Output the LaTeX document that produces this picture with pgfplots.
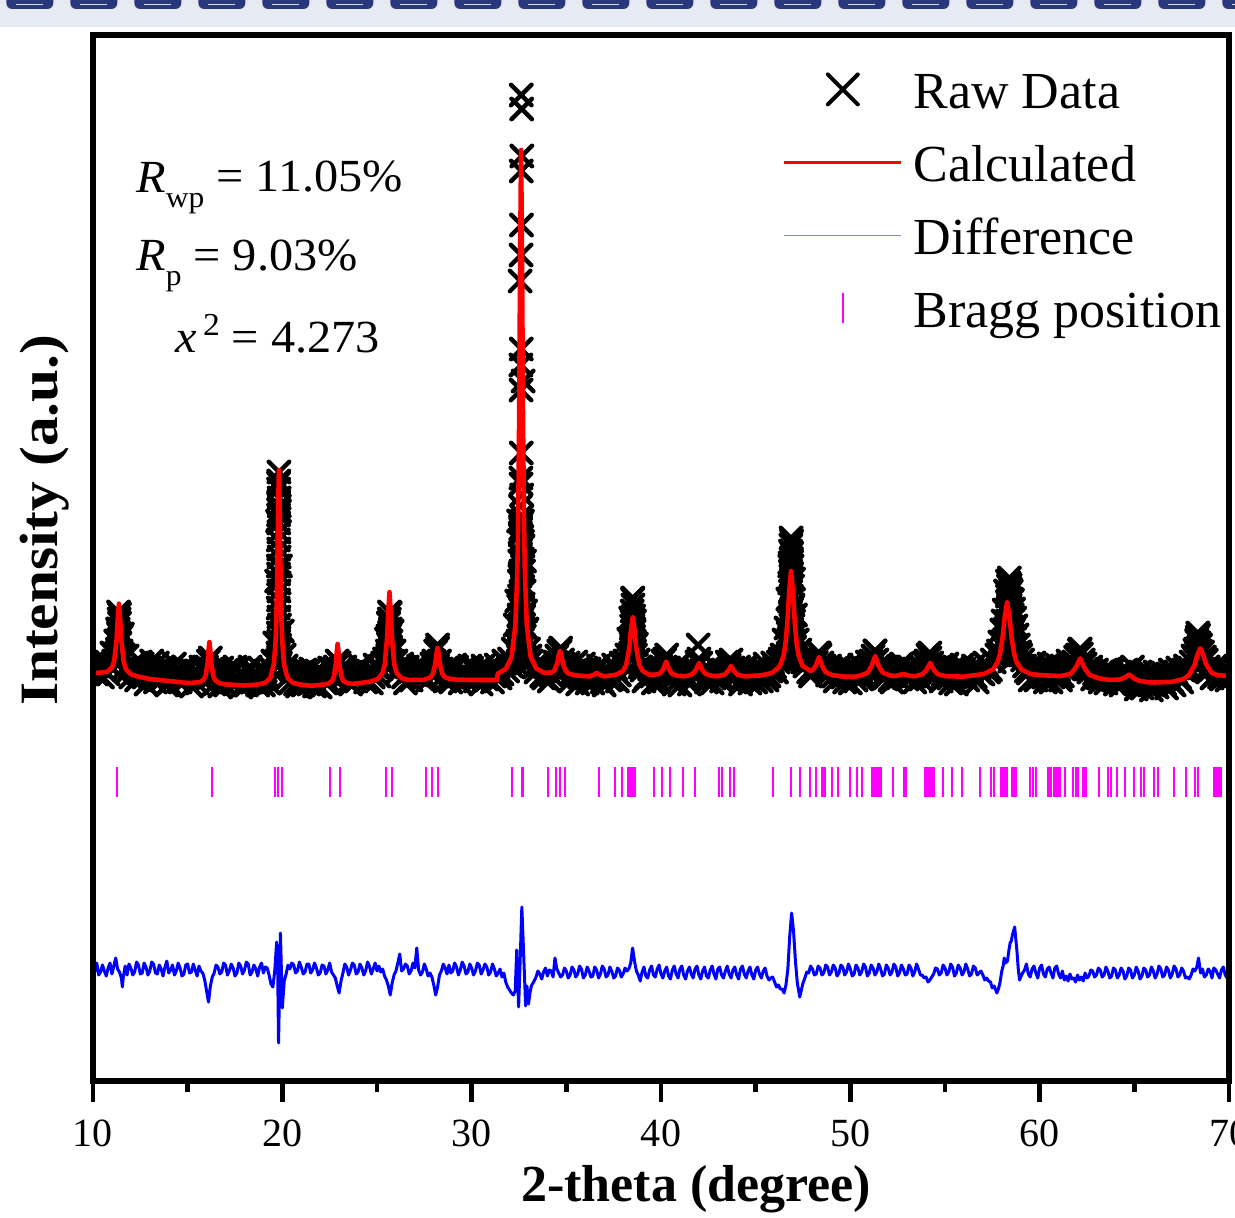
\documentclass[border=0pt]{standalone}
\usepackage{fontspec}
\setmainfont{Liberation Serif}
\usepackage{graphicx}
\usepackage{pgfplots}
\usepackage{pgfplotstable}
\pgfplotsset{compat=1.18}
\definecolor{bannerbg}{RGB}{230,234,243}
\definecolor{bannerfg}{RGB}{40,56,122}
\definecolor{bannerln}{RGB}{215,222,240}
\definecolor{legblue}{RGB}{135,135,250}
\definecolor{braggmag}{RGB}{255,0,255}
\definecolor{calcred}{RGB}{255,0,0}
\definecolor{diffblue}{RGB}{0,0,255}

\pgfplotstableread{
x o d
10.0 418 104
10.1 409 110
10.2 407 118
10.3 415 106
10.4 423 109
10.5 404 116
10.6 411 110
10.7 419 105
10.8 407 113
10.9 415 118
11.0 428 107
11.1 420 115
11.2 440 123
11.3 452 112
11.4 467 109
11.5 445 103
11.55 447 94
11.6 426 104
11.7 414 115
11.8 425 106
11.9 411 117
12.0 404 113
12.1 416 106
12.2 412 109
12.3 401 119
12.4 408 116
12.5 419 107
12.6 417 108
12.7 404 118
12.8 397 114
12.9 410 106
13.0 413 110
13.1 420 119
13.2 404 117
13.3 399 108
13.4 418 107
13.5 409 116
13.6 401 112
13.7 414 105
13.8 410 114
13.9 396 120
14.0 398 108
14.1 412 111
14.2 406 116
14.3 417 106
14.4 410 110
14.5 400 118
14.6 399 113
14.7 408 105
14.8 414 107
14.9 402 116
15.0 403 117
15.1 412 108
15.2 395 109
15.3 406 117
15.4 410 111
15.5 398 105
15.6 405 115
15.7 414 110
15.8 402 108
15.9 409 101
16.0 414 90
16.1 420 79
16.2 423 95
16.3 412 104
16.4 397 108
16.5 410 116
16.6 406 114
16.7 395 107
16.8 413 109
16.9 404 118
17.0 396 116
17.1 411 106
17.2 408 110
17.3 399 117
17.4 401 113
17.5 414 105
17.6 412 108
17.7 400 118
17.8 394 115
17.9 407 107
18.0 405 111
18.1 396 119
18.2 410 117
18.3 414 106
18.4 399 109
18.5 405 116
18.6 407 112
18.7 396 105
18.8 413 114
18.9 402 118
19.0 396 108
19.1 410 114
19.2 404 113
19.3 398 106
19.4 412 97
19.5 420 94
19.6 438 110
19.7 500 139
19.75 560 120
19.8 598 38
19.85 570 90
19.9 515 148
20.0 450 73
20.1 426 100
20.2 415 107
20.3 404 116
20.4 398 112
20.5 411 118
20.6 409 116
20.7 397 108
20.8 395 110
20.9 408 119
21.0 405 114
21.1 396 107
21.2 411 109
21.3 404 117
21.4 397 117
21.5 412 108
21.6 403 111
21.7 395 118
21.8 410 113
21.9 406 106
22.0 394 108
22.1 409 116
22.2 406 115
22.3 398 107
22.4 400 111
22.5 413 118
22.6 412 109
22.7 403 106
22.8 414 103
22.9 420 95
23.0 418 88
23.1 412 100
23.2 404 108
23.3 414 117
23.4 410 114
23.5 399 106
23.6 397 111
23.7 409 118
23.8 407 116
23.9 400 107
24.0 402 109
24.1 415 117
24.2 413 113
24.3 404 106
24.4 399 110
24.5 410 119
24.6 409 115
24.7 398 107
24.8 404 112
24.9 416 118
25.0 414 110
25.1 405 115
25.2 412 109
25.3 418 112
25.4 422 105
25.5 442 101
25.6 458 95
25.7 468 86
25.8 450 98
25.9 430 106
26.0 420 110
26.1 409 118
26.2 412 127
26.3 417 110
26.4 404 112
26.5 398 117
26.6 414 115
26.7 409 107
26.8 401 110
26.9 412 118
27.0 410 113
27.1 406 133
27.2 415 111
27.3 408 106
27.4 402 109
27.5 414 117
27.6 412 112
27.7 401 105
27.8 409 108
27.9 417 104
28.0 420 96
28.1 430 86
28.2 436 94
28.3 420 106
28.4 412 110
28.5 405 117
28.6 400 113
28.7 413 107
28.8 411 116
28.9 399 108
29.0 404 110
29.1 416 118
29.2 414 114
29.3 405 106
29.4 398 111
29.5 411 119
29.6 409 115
29.7 401 107
29.8 403 109
29.9 415 117
30.0 413 113
30.1 404 106
30.2 400 110
30.3 411 118
30.4 408 116
30.5 397 107
30.6 415 111
30.7 409 117
30.8 402 114
30.9 413 106
31.0 410 109
31.1 399 117
31.2 405 112
31.3 416 105
31.4 414 108
31.5 403 112
31.6 407 104
31.7 420 108
31.8 418 99
31.9 410 94
32.0 422 91
32.1 415 88
32.2 432 86
32.3 456 90
32.38 480 131
32.48 560 74
32.56 800 120
32.65 925 174
32.72 700 140
32.79 520 105
32.85 470 75
32.92 452 95
33.0 432 77
33.08 425 88
33.15 420 95
33.3 414 100
33.4 409 104
33.5 418 110
33.6 416 107
33.7 405 102
33.8 403 109
33.9 414 113
34.0 411 105
34.1 400 111
34.2 406 110
34.3 412 104
34.4 419 123
34.5 425 112
34.6 430 108
34.7 433 104
34.8 421 106
34.9 410 113
35.0 413 110
35.1 418 103
35.2 400 106
35.3 407 114
35.4 410 111
35.5 419 104
35.6 397 107
35.7 404 115
35.8 408 112
35.9 417 103
36.0 403 106
36.1 398 114
36.2 412 110
36.3 406 104
36.4 398 105
36.5 409 114
36.6 411 111
36.7 415 103
36.8 404 107
36.9 399 115
37.0 396 112
37.1 413 104
37.2 410 106
37.3 401 114
37.4 402 110
37.5 416 103
37.6 412 105
37.7 400 113
37.8 406 111
37.9 418 104
38.0 415 107
38.1 420 113
38.2 426 110
38.3 442 112
38.4 463 118
38.5 482 133
38.6 460 120
38.7 437 110
38.8 421 106
38.9 414 100
39.0 411 109
39.1 400 114
39.2 403 105
39.3 415 103
39.4 412 111
39.5 405 115
39.6 398 106
39.7 411 104
39.8 407 112
39.9 399 116
40.0 414 107
40.1 420 103
40.2 422 110
40.3 426 114
40.4 413 105
40.5 409 102
40.6 402 111
40.7 397 115
40.8 410 107
40.9 416 103
41.0 396 112
41.1 405 115
41.2 408 106
41.3 414 102
41.4 403 110
41.5 397 114
41.6 411 107
41.7 406 103
41.8 413 112
41.9 419 115
42.0 422 106
42.1 418 102
42.2 411 110
42.3 403 114
42.4 399 105
42.5 412 103
42.6 409 111
42.7 398 115
42.8 403 107
42.9 414 102
43.0 412 112
43.1 405 114
43.2 400 106
43.3 410 103
43.4 408 110
43.5 419 115
43.6 416 107
43.7 421 103
43.8 413 111
43.9 404 114
44.0 405 106
44.1 414 102
44.2 397 112
44.3 403 115
44.4 410 107
44.5 415 103
44.6 402 110
44.7 398 114
44.8 411 106
44.9 406 102
45.0 399 111
45.1 412 114
45.2 407 107
45.3 400 103
45.4 412 110
45.5 417 113
45.6 401 105
45.7 405 101
45.8 410 103
45.9 418 104
46.0 414 99
46.1 409 94
46.2 419 96
46.3 422 92
46.4 426 92
46.5 441 88
46.6 453 96
46.7 482 112
46.8 515 145
46.9 540 168
47.0 502 150
47.1 466 120
47.2 441 98
47.33 431 84
47.4 423 90
47.5 419 98
47.6 415 103
47.7 420 109
47.8 409 108
47.9 405 115
48.0 413 112
48.1 421 106
48.2 419 107
48.3 428 115
48.4 426 113
48.5 418 106
48.6 415 108
48.7 410 116
48.8 406 114
48.9 415 106
49.0 412 109
49.1 405 116
49.2 400 113
49.3 413 105
49.4 409 108
49.5 416 116
49.6 404 114
49.7 399 106
49.8 413 109
49.9 408 117
50.0 398 112
50.1 411 105
50.2 407 107
50.3 401 116
50.4 411 113
50.5 416 106
50.6 402 109
50.7 406 117
50.8 412 114
50.9 419 105
51.0 415 108
51.1 420 116
51.2 425 113
51.3 430 106
51.4 421 109
51.5 415 117
51.6 411 112
51.7 405 105
51.8 403 107
51.9 414 116
52.0 410 113
52.1 401 106
52.2 399 109
52.3 412 117
52.4 408 114
52.5 403 105
52.6 413 108
52.7 417 116
52.8 410 112
52.9 404 106
53.0 402 107
53.1 414 116
53.2 411 113
53.3 405 105
53.4 399 109
53.5 410 117
53.6 409 112
53.7 402 106
53.8 413 106
53.9 418 103
54.0 420 104
54.1 426 99
54.2 423 101
54.3 418 104
54.4 413 107
54.5 405 113
54.6 407 112
54.7 414 106
54.8 400 108
54.9 406 116
55.0 411 113
55.1 417 106
55.2 403 109
55.3 398 117
55.4 409 114
55.5 414 105
55.6 397 108
55.7 405 116
55.8 407 113
55.9 416 106
56.0 412 109
56.1 403 117
56.2 401 112
56.3 410 105
56.4 410 107
56.5 415 115
56.6 404 113
56.7 399 106
56.8 413 108
56.9 408 110
57.0 407 106
57.1 418 101
57.2 416 103
57.3 409 100
57.4 411 99
57.5 421 93
57.6 419 95
57.74 426 88
57.82 430 92
57.9 439 98
58.0 451 110
58.07 460 115
58.13 471 123
58.2 490 118
58.3 500 120
58.37 498 130
58.44 496 138
58.5 490 140
58.56 481 146
58.62 472 150
58.68 463 154
58.74 455 142
58.8 446 130
58.87 436 112
58.94 429 101
59.0 426 104
59.1 421 108
59.2 415 111
59.3 410 117
59.4 408 107
59.5 401 104
59.6 413 112
59.7 418 115
59.8 401 108
59.9 406 103
60.0 410 113
60.1 415 116
60.2 404 107
60.3 399 104
60.4 412 112
60.5 417 114
60.6 399 108
60.7 404 103
60.8 408 113
60.9 416 115
61.0 411 107
61.1 401 103
61.2 405 110
61.3 412 101
61.4 414 105
61.5 420 100
61.6 412 107
61.7 416 102
61.8 419 103
61.9 424 99
62.0 426 106
62.1 431 101
62.2 427 104
62.3 421 100
62.4 417 108
62.5 412 103
62.6 409 105
62.7 414 111
62.8 402 110
62.9 407 104
63.0 411 106
63.1 403 113
63.2 399 111
63.3 409 104
63.4 407 106
63.5 398 114
63.6 402 110
63.7 412 103
63.8 410 105
63.9 401 113
64.0 397 111
64.1 406 103
64.2 405 106
64.3 396 113
64.4 400 110
64.5 410 102
64.6 411 105
64.7 403 113
64.8 407 111
64.9 414 103
65.0 398 106
65.1 392 114
65.2 404 110
65.3 409 102
65.4 393 105
65.5 399 113
65.6 401 111
65.7 407 104
65.8 396 106
65.9 391 114
66.0 405 110
66.1 409 103
66.2 394 107
66.3 400 115
66.4 402 112
66.5 408 104
66.6 397 106
66.7 393 114
66.8 406 111
66.9 411 103
67.0 399 107
67.1 396 115
67.2 408 112
67.3 413 104
67.4 403 106
67.5 399 113
67.6 411 110
67.7 415 103
67.8 409 104
67.9 413 102
68.0 419 106
68.1 425 112
68.2 431 110
68.3 441 114
68.39 446 123
68.5 436 108
68.6 429 112
68.7 424 104
68.8 421 106
68.9 414 112
69.0 411 110
69.1 403 103
69.2 405 113
69.3 415 111
69.4 413 107
69.5 404 103
69.6 402 111
69.7 412 114
69.8 410 106
69.9 401 103
70.0 404 109
}\obsdata

\pgfplotstableread{
x y
11.28 440
11.35 469
11.38 462
11.40 458
11.36 447
11.45 445
11.33 452
11.42 438
11.30 432
11.48 430
11.25 428
11.44 422
11.52 425
19.82 609
19.81 600
19.80 592
19.83 583
19.84 575
19.80 566
19.81 558
19.82 549
19.79 541
19.81 532
19.83 524
19.79 515
19.80 507
19.83 498
19.82 490
19.80 481
19.78 473
19.82 464
19.85 456
19.79 448
19.81 440
19.84 436
19.77 428
19.80 424
19.87 432
19.74 420
19.90 418
25.66 469
25.65 462
25.62 458
25.70 452
25.68 446
25.58 445
25.74 440
25.61 440
25.64 436
25.72 434
25.55 430
25.78 428
25.57 426
25.60 425
25.66 422
25.80 420
25.50 420
28.20 433
32.62 986
32.64 972
32.62 910
32.63 856
32.61 826
32.62 732
32.60 716
32.61 691
32.62 628
32.60 603
32.61 597
32.64 586
32.58 575
32.65 565
32.68 560
32.63 558
32.59 552
32.57 548
32.57 546
32.66 540
32.71 535
32.56 528
32.67 522
32.54 520
32.68 515
32.60 510
32.74 510
32.55 505
32.52 500
32.62 498
32.70 494
32.77 490
32.53 485
32.72 477
32.48 475
32.58 472
32.51 466
32.75 465
32.66 462
32.74 456
32.50 455
32.55 450
32.49 445
32.78 445
32.69 442
32.45 440
32.76 435
32.52 432
32.72 428
32.47 425
32.60 420
32.79 418
32.44 416
34.67 430
38.51 483
38.52 476
38.48 470
38.55 465
38.47 460
38.45 455
38.56 452
38.58 450
38.50 445
38.50 440
38.42 438
38.62 436
38.44 432
38.60 430
38.40 428
38.65 426
41.96 436
46.87 543
46.86 536
46.84 530
46.90 528
46.89 522
46.82 518
46.92 515
46.85 510
46.86 505
46.88 500
46.80 498
46.95 495
46.84 490
46.88 485
46.78 480
46.97 476
46.90 472
46.83 468
46.75 462
47.00 460
46.86 456
46.90 452
46.72 448
47.03 446
46.80 444
46.85 440
46.93 438
46.70 436
47.06 434
46.88 430
46.95 428
46.68 425
47.10 424
46.82 420
48.35 428
51.31 430
54.20 428
58.40 503
58.38 498
58.35 495
58.45 492
58.42 488
58.30 485
58.50 482
58.33 478
58.38 475
58.47 470
58.28 468
58.55 466
58.30 460
58.42 458
58.40 454
58.25 452
58.58 450
58.50 445
58.35 444
58.28 442
58.22 438
58.60 436
58.38 434
58.45 430
58.25 430
58.55 428
58.20 425
58.62 424
58.42 420
62.14 432
68.35 448
68.33 444
68.30 440
68.42 438
68.40 434
68.25 432
68.48 430
68.28 428
68.45 426
68.38 425
68.20 422
68.55 420
}\stackdata

\pgfplotstableread{
x y
10.0 408
10.37 408.4
10.75 409.3
11.0 413.2
11.12 420.2
11.245 441.5
11.31 463
11.37 477.3
11.43 462.7
11.495 441
11.62 419.2
11.745 411.7
12.0 406.8
12.37 404.4
13.0 402
14.0 400
15.0 398
15.35 398.3
15.65 399
15.85 401.4
15.95 405.4
16.05 418
16.10 430.5
16.15 438.9
16.20 430.4
16.25 417.8
16.35 405.1
16.45 400.8
16.65 398
16.95 396.7
18.0 395.5
18.74 396.6
19.10 398.3
19.37 403.3
19.55 416.6
19.64 438.2
19.685 461.5
19.73 503
19.775 567.8
19.82 611
19.865 567.8
19.91 503
19.955 461.5
20.00 438.2
20.09 416.6
20.27 403.3
20.54 398.3
20.90 396.6
21.5 395.2
22.12 396.2
22.42 397.3
22.62 399.9
22.72 404.1
22.82 416.4
22.87 428.7
22.92 437
22.97 428.8
23.02 416.5
23.12 404.3
23.22 400.2
23.42 397.9
23.72 397.1
24.16 398.1
24.66 399.5
25.035 401.9
25.285 407.6
25.41 416.7
25.535 443.8
25.60 470.9
25.66 488.9
25.72 471
25.785 444
25.91 417.1
26.035 408.2
26.285 402.9
26.66 401.1
27.16 401.2
27.45 401.1
27.825 403.6
27.95 407
28.075 416.9
28.14 426.9
28.20 433.5
28.26 427
28.325 417
28.45 407.2
28.575 403.9
28.825 402.1
29.2 401.4
30.0 401
31.0 401
31.34 401
31.38 407.4
31.81 412.1
32.11 424.2
32.31 456.4
32.41 508.8
32.46 565
32.51 666
32.56 823
32.61 931
32.66 823
32.71 666
32.76 565
32.81 508.8
32.91 456.4
33.11 424.5
33.41 412.6
33.81 408.3
34.22 408.5
34.37 410.7
34.52 417.9
34.595 425.4
34.67 430.2
34.745 425.1
34.82 417.5
34.97 410
35.12 407.4
35.42 405.8
35.9 405
36.2 404.6
36.45 406.2
36.6 408
36.75 406.2
37.0 404.7
37.11 404.9
37.635 406.3
37.985 410
38.16 416
38.335 434
38.42 452
38.51 464
38.60 452
38.685 434
38.86 416
39.035 410
39.385 406.3
39.67 406.2
39.97 407.7
40.12 412
40.27 419.4
40.42 412
40.57 407.3
40.87 405.2
41.31 404.8
41.66 406.8
41.835 411
42.01 418
42.185 411
42.36 407
42.71 405
43.00 405
43.35 406.2
43.525 409.5
43.70 415
43.875 409.5
44.05 406.2
44.4 404.7
45.27 405.6
45.87 408.1
46.27 414.6
46.47 425.2
46.57 436.6
46.67 457
46.77 488.8
46.87 510
46.97 488.8
47.07 457
47.17 436.6
47.27 425.7
47.47 415.3
47.87 410.2
48.0 410.8
48.175 415.4
48.35 423.9
48.525 414.5
48.70 408.8
49.05 405.9
49.6 404.5
50.2 404.2
50.51 405.3
50.91 408.2
51.11 414.5
51.31 425
51.51 414.5
51.71 408.3
52.11 405.5
52.4 405
52.79 407
53.2 405
53.42 404.9
53.82 406.8
54.02 411
54.22 418
54.42 411
54.62 406.8
55.02 404.9
56.0 404.3
56.28 405.2
57.03 406.9
57.53 411.5
57.78 419
57.905 427.1
58.03 441.5
58.155 464
58.28 479
58.405 464
58.53 441.5
58.655 427.1
58.78 419
59.03 411.5
59.53 406.9
60.28 405.6
61.14 405
61.64 407.2
61.89 412.9
62.14 422.6
62.39 412.3
62.64 406
63.14 402.6
63.73 401.1
64.23 401.5
64.48 403.3
64.73 406.5
64.98 402.7
65.23 400.3
65.73 398.7
66.08 398.5
66.98 399.2
67.58 401.8
67.88 405.7
68.18 415.9
68.33 425.9
68.48 432.6
68.63 426.5
68.78 417.3
69.08 408.3
69.38 405.8
69.98 405.1
70.0 405
}\calcdata

\pgfplotstableread{
x y
11.26 299
16.27 299
19.59 299
19.75 299
19.99 299
22.54 299
23.02 299
25.47 299
25.81 299
27.59 299
27.88 299
28.20 299
32.14 299
32.66 299
32.72 299
34.04 299
34.46 299
34.67 299
34.95 299
36.73 299
37.58 299
37.95 299
38.25 299
38.35 299
38.45 299
38.55 299
38.65 299
39.64 299
40.06 299
40.50 299
41.14 299
41.80 299
43.07 299
43.21 299
43.67 299
43.85 299
45.91 299
46.88 299
47.36 299
47.88 299
48.18 299
48.48 299
48.58 299
48.68 299
49.02 299
49.36 299
49.96 299
50.36 299
50.62 299
51.13 299
51.21 299
51.29 299
51.43 299
51.53 299
51.63 299
52.23 299
52.83 299
52.88 299
52.93 299
53.93 299
54.00 299
54.07 299
54.15 299
54.23 299
54.33 299
54.43 299
54.89 299
55.38 299
55.90 299
56.84 299
57.44 299
57.58 299
57.94 299
58.04 299
58.11 299
58.18 299
58.24 299
58.30 299
58.56 299
58.64 299
58.74 299
59.51 299
59.65 299
59.79 299
60.45 299
60.52 299
60.59 299
60.75 299
60.83 299
60.91 299
60.98 299
61.05 299
61.35 299
61.75 299
61.91 299
62.05 299
62.31 299
62.38 299
62.45 299
63.11 299
63.61 299
63.79 299
64.06 299
64.52 299
64.96 299
65.36 299
65.50 299
66.06 299
66.26 299
67.12 299
67.72 299
68.23 299
68.37 299
69.21 299
69.30 299
69.37 299
69.47 299
69.57 299
69.87 299
}\braggdata

\pgfplotsset{
  rawstyle/.style={only marks, mark=x, mark size=7.25pt, black,
    mark options={line width=2.2pt, line cap=round, black}},
}

\begin{document}
\begin{tikzpicture}
\begin{axis}[
  at={(0pt,0pt)}, anchor=south west,
  scale only axis, width=568pt, height=523pt,
  xmin=10, xmax=70, ymin=0, ymax=1046,
  axis on top,
  clip marker paths=true,
  axis line style={line width=3pt, black},
  xtick={10,20,30,40,50,60,70},
  minor xtick={15,25,35,45,55,65},
  xtick pos=left,
  ytick=\empty,
  tick align=outside,
  major tick length=10.5pt,
  minor tick length=5.5pt,
  every tick/.style={black, line width=2.3pt},
  /pgf/number format/assume math mode=true,
  tick label style={font=\fontsize{20}{24}\selectfont},
  xticklabel style={yshift=-5.5pt},
  xlabel={2-theta (degree)},
  xlabel style={font=\fontsize{26}{30}\selectfont\bfseries, at={(axis description cs:0.531,-0.1033)}, anchor=center},
  ylabel={\scalebox{1.1}[1]{Intensity (a.u.)}},
  ylabel style={font=\fontsize{27}{31}\selectfont\bfseries, at={(axis description cs:-0.0423,0.536)}, anchor=center},
  legend cell align=left,
  legend style={at={(axis description cs:0.6074,0.9695)}, anchor=north west,
    draw=none, fill=none, inner sep=0pt, outer sep=0pt,
    row sep=14.0pt, column sep=5.5pt,
    font=\fontsize{26}{30}\selectfont, nodes={inner sep=0pt}},
]
\addplot[rawstyle,
  legend image code/.code={
    \path[draw=none,fill=none] (0pt,-9pt) (58.5pt,9pt);
    \draw[black, line width=2pt, line cap=round] (29.25pt,0pt) ++(-7.5pt,-7.5pt) -- ++(15pt,15pt) ++(-15pt,0pt) -- ++(15pt,-15pt);
  }] table[x=x,y=o]{\obsdata};
\addlegendentry{\raisebox{0pt}[21pt][0pt]{Raw Data}}
\addplot[rawstyle, forget plot] table[x=x,y=y]{\stackdata};
\addplot[calcred, line width=2.3pt, line join=round, no markers,
  legend image code/.code={
    \path[draw=none,fill=none] (0pt,-9pt) (58.5pt,9pt);
    \draw[calcred, line width=1.3pt] (0pt,0pt) -- (58.5pt,0pt);
  }] table[x=x,y=y]{\calcdata};
\addlegendentry{\raisebox{0pt}[21pt][0pt]{Calculated}}
\addplot[diffblue, line width=1.5pt, line join=round, no markers,
  legend image code/.code={
    \path[draw=none,fill=none] (0pt,-9pt) (58.5pt,9pt);
    \draw[legblue, line width=0.8pt] (0pt,0pt) -- (58.5pt,0pt);
  }] table[x=x,y=d]{\obsdata};
\addlegendentry{\raisebox{0pt}[21pt][0pt]{Difference}}
\addplot[braggmag, only marks, mark=|, mark size=7.5pt, mark options={line width=1pt, braggmag},
  legend image code/.code={
    \path[draw=none,fill=none] (0pt,-9pt) (58.5pt,9pt);
    \draw[braggmag, line width=1pt] (29.25pt,-7.5pt) -- (29.25pt,7.5pt);
  }] table[x=x,y=y]{\braggdata};
\addlegendentry{\raisebox{0pt}[21pt][0pt]{Bragg position}}

\node[anchor=base west, inner sep=0pt, font=\fontsize{23}{27}\selectfont] at (axis cs:12.27,889)
  {\scalebox{1.05}[1]{\textit{R}\raisebox{-0.33em}{\fontsize{15}{15}\selectfont wp} = 11.05\%}};
\node[anchor=base west, inner sep=0pt, font=\fontsize{23}{27}\selectfont] at (axis cs:12.27,811)
  {\scalebox{1.05}[1]{\textit{R}\raisebox{-0.33em}{\fontsize{15}{15}\selectfont p} = 9.03\%}};
\node[anchor=base west, inner sep=0pt, font=\fontsize{23}{27}\selectfont] at (axis cs:14.33,729)
  {\scalebox{1.05}[1]{\textit{x}\hspace{3pt}\raisebox{0.36em}{\fontsize{16}{16}\selectfont 2} = 4.273}};
\end{axis}
\pgfresetboundingbox
\path[use as bounding box] (-46.5pt,-68pt) rectangle (571pt,540.5pt);
\fill[bannerbg] (-46.5pt,527pt) rectangle (572pt,542pt);
\foreach \i in {0,...,19} {
  \fill[bannerfg, rounded corners=3pt] ({-43.35pt+32pt*\i},536pt) rectangle ++(23.5pt,8pt);
  \draw[bannerln, line width=0.8pt] ({-38.35pt+32pt*\i},538.2pt) -- ++(13.5pt,0pt);
}
\end{tikzpicture}
\end{document}
